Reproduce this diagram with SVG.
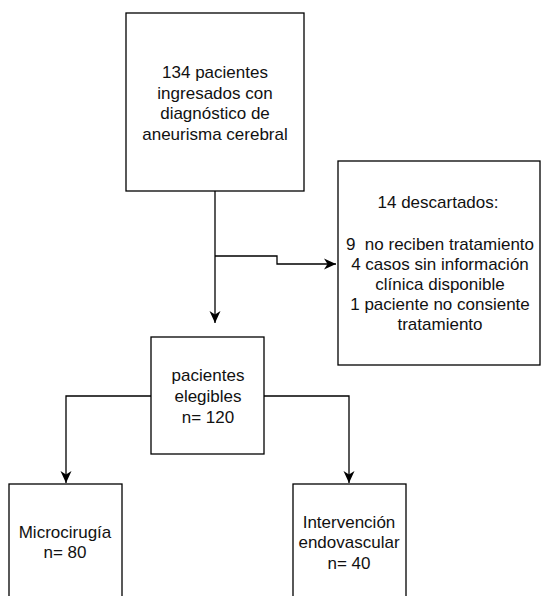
<svg xmlns="http://www.w3.org/2000/svg" width="542" height="596" viewBox="0 0 542 596">
<style>
.box{fill:#fff;stroke:#000;stroke-width:1.3}
.t{font-family:"Liberation Sans",Arial,sans-serif;font-size:17px;fill:#111;text-anchor:middle}
.c{fill:none;stroke:#000;stroke-width:1.3}
</style>
<defs>
<marker id="a" markerWidth="14" markerHeight="14" refX="12" refY="6.5" orient="auto" markerUnits="userSpaceOnUse">
<path d="M0,1 L12,6.5 L0,12 L3.5,6.5 Z" fill="#000"/>
</marker>
</defs>
<rect width="542" height="596" fill="#fff"/>
<g id="connectors">
<path class="c" d="M215,191 V323" marker-end="url(#a)"/>
<path class="c" d="M215,256 H277 V264 H336" marker-end="url(#a)"/>
<path class="c" d="M151,396 H66 V483" marker-end="url(#a)"/>
<path class="c" d="M264,396 H349 V483" marker-end="url(#a)"/>
</g>
<g id="n1">
<rect class="box" x="126" y="13" width="178" height="178"/>
<text class="t" x="215" y="78">134 pacientes</text>
<text class="t" x="215" y="98.5">ingresados con</text>
<text class="t" x="215" y="119">diagnóstico de</text>
<text class="t" x="215" y="139.5">aneurisma cerebral</text>
</g>
<g id="n2">
<rect class="box" x="338" y="161" width="202" height="204"/>
<text class="t" x="438" y="208">14 descartados:</text>
<text class="t" x="440" y="250" xml:space="preserve">9  no reciben tratamiento</text>
<text class="t" x="440" y="270">4 casos sin información</text>
<text class="t" x="440" y="290">clínica disponible</text>
<text class="t" x="440" y="310">1 paciente no consiente</text>
<text class="t" x="440" y="330">tratamiento</text>
</g>
<g id="n3">
<rect class="box" x="151" y="337" width="113" height="117"/>
<text class="t" x="208" y="381">pacientes</text>
<text class="t" x="208" y="402">elegibles</text>
<text class="t" x="208" y="423">n= 120</text>
</g>
<g id="n4">
<rect class="box" x="9" y="484" width="113" height="130"/>
<text class="t" x="65" y="538">Microcirugía</text>
<text class="t" x="65" y="558">n= 80</text>
</g>
<g id="n5">
<rect class="box" x="293" y="484" width="113" height="130"/>
<text class="t" x="349" y="528">Intervención</text>
<text class="t" x="349" y="548">endovascular</text>
<text class="t" x="349" y="569">n= 40</text>
</g>
</svg>
